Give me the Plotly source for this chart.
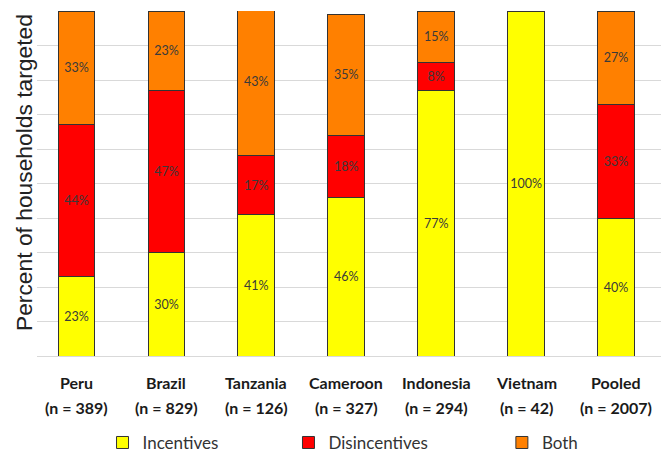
import plotly.graph_objects as go

# Share of targeted households by instrument type, per site
sites = ["Peru", "Brazil", "Tanzania", "Cameroon", "Indonesia", "Vietnam", "Pooled"]
sample_sizes = ["(n = 389)", "(n = 829)", "(n = 126)", "(n = 327)", "(n = 294)", "(n = 42)", "(n = 2007)"]
incentives = [23, 30, 41, 46, 77, 100, 40]
disincentives = [44, 47, 17, 18, 8, 0, 33]
both = [33, 23, 43, 35, 15, 0, 27]

series = [
    ("Incentives", incentives, "#FFFF00", "legend"),
    ("Disincentives", disincentives, "#FF0000", "legend2"),
    ("Both", both, "#FF8000", "legend3"),
]

label_font = dict(family="Lato, Carlito, sans-serif", size=12.5, color="#3a3a3a")

fig = go.Figure()
for name, vals, color, leg in series:
    fig.add_trace(go.Bar(
        x=sites,
        y=vals,
        name=name,
        width=0.41,
        marker=dict(color=color, line=dict(color="#333333", width=1)),
        text=[f"{v}%" if v > 0 else "" for v in vals],
        textposition="inside",
        insidetextanchor="middle",
        textangle=0,
        textfont=label_font,
        constraintext="none",
        legend=leg,
        showlegend=True,
        hoverinfo="skip",
    ))

# Two-line category labels under each bar
for site, n in zip(sites, sample_sizes):
    fig.add_annotation(x=site, y=-0.078, xref="x", yref="paper", text=f"<b>{site}</b>",
                       showarrow=False, yanchor="middle",
                       font=dict(family="Lato, sans-serif", size=16, color="#1a1a1a"))
    fig.add_annotation(x=site, y=-0.148, xref="x", yref="paper", text=f"<b>{n}</b>",
                       showarrow=False, yanchor="middle",
                       font=dict(family="Lato, sans-serif", size=16, color="#1a1a1a"))

# Vertical axis title
fig.add_annotation(x=-0.021, y=0.533, xref="paper", yref="paper",
                   text="Percent of households targeted", textangle=-90,
                   showarrow=False, xanchor="center", yanchor="middle",
                   font=dict(family="Liberation Sans, Arial, sans-serif", size=22.8, color="#222222"))

legend_style = dict(orientation="h", yanchor="middle", xanchor="left",
                    font=dict(family="Lato, sans-serif", size=17, color="#333333"),
                    bgcolor="rgba(0,0,0,0)", borderwidth=0, visible=True)

fig.update_layout(
    width=664, height=452,
    margin=dict(l=37, r=3, t=11, b=96, autoexpand=False),
    paper_bgcolor="white",
    plot_bgcolor="white",
    barmode="stack",
    showlegend=True,
    legend=dict(x=0.105, y=-0.252, **legend_style),
    legend2=dict(x=0.403, y=-0.252, **legend_style),
    legend3=dict(x=0.745, y=-0.252, **legend_style),
    xaxis=dict(range=[-0.44, 6.5], showticklabels=False, showgrid=False,
               showline=False, ticks=""),
    yaxis=dict(range=[0, 100], dtick=10, showgrid=True, gridcolor="#d9d9d9",
               gridwidth=1, showticklabels=False, showline=False, ticks="",
               zeroline=True, zerolinecolor="#d9d9d9", zerolinewidth=1),
)

fig.write_html("out.html")
